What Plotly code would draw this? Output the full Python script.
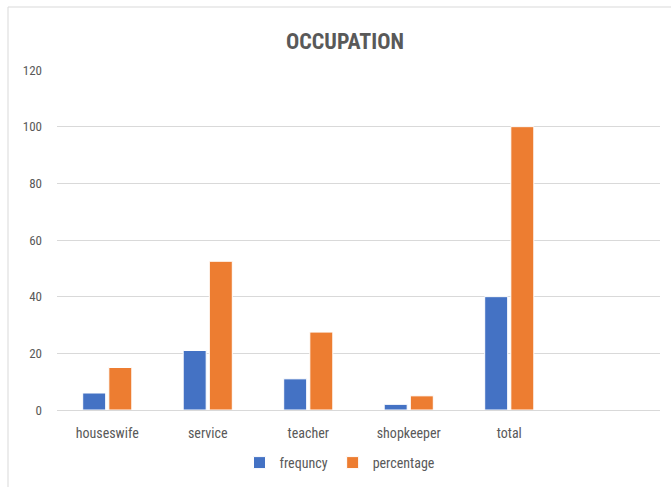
import plotly.graph_objects as go

categories = ["houseswife", "service", "teacher", "shopkeeper", "total"]
frequency = [6, 21, 11, 2, 40]
percentage = [15, 52.5, 27.5, 5, 100]
y_ticks = [0, 20, 40, 60, 80, 100, 120]

FONT = "Liberation Sans Narrow, Arial Narrow, Roboto Condensed, Roboto, sans-serif"
TXT = "#595959"

fig = go.Figure()
fig.add_trace(go.Bar(name="frequncy", x=categories, y=frequency,
                     marker=dict(color="#4472C4", line=dict(color="white", width=1))))
fig.add_trace(go.Bar(name="percentage", x=categories, y=percentage,
                     marker=dict(color="#ED7D31", line=dict(color="white", width=1))))

W, H = 671, 487
L, R, T, B = 57, 11, 70, 77
pw, ph = W - L - R, H - T - B

def px_x(p):
    return (p - L) / pw

def px_y(p):
    return (H - B - p) / ph

fig.update_layout(
    width=W, height=H,
    margin=dict(l=L, r=R, t=T, b=B, autoexpand=False),
    paper_bgcolor="white", plot_bgcolor="white",
    barmode="group", bargap=0.48, bargroupgap=0.12,
    font=dict(family=FONT, color=TXT, size=13),
    title=dict(text="<b>OCCUPATION</b>", x=345 / W, xanchor="center",
               y=1 - 41 / H, yanchor="middle", yref="container",
               font=dict(family=FONT, size=22, color=TXT)),
    legend=dict(orientation="h", x=px_x(340), xanchor="center",
                y=px_y(463), yanchor="middle",
                font=dict(family=FONT, size=14, color=TXT),
                itemwidth=30, traceorder="normal"),
    xaxis=dict(range=[-0.5, 5.5], showgrid=False, showline=True,
               linecolor="#D9D9D9", linewidth=1, ticks="",
               ticklabelstandoff=10, automargin=False,
               tickfont=dict(family=FONT, size=14, color=TXT)),
    yaxis=dict(range=[0, 120], tickvals=y_ticks, showgrid=True,
               gridcolor="#D9D9D9", gridwidth=1, zeroline=False,
               showline=False, ticks="", ticklabelstandoff=14,
               automargin=False,
               tickfont=dict(family=FONT, size=13, color=TXT)),
    shapes=[dict(type="rect", xref="paper", yref="paper",
                 x0=px_x(8), x1=px_x(W + 5), y0=px_y(H + 5), y1=px_y(7),
                 line=dict(color="#D9D9D9", width=1), layer="below")],
)

fig.write_html("out.html")
